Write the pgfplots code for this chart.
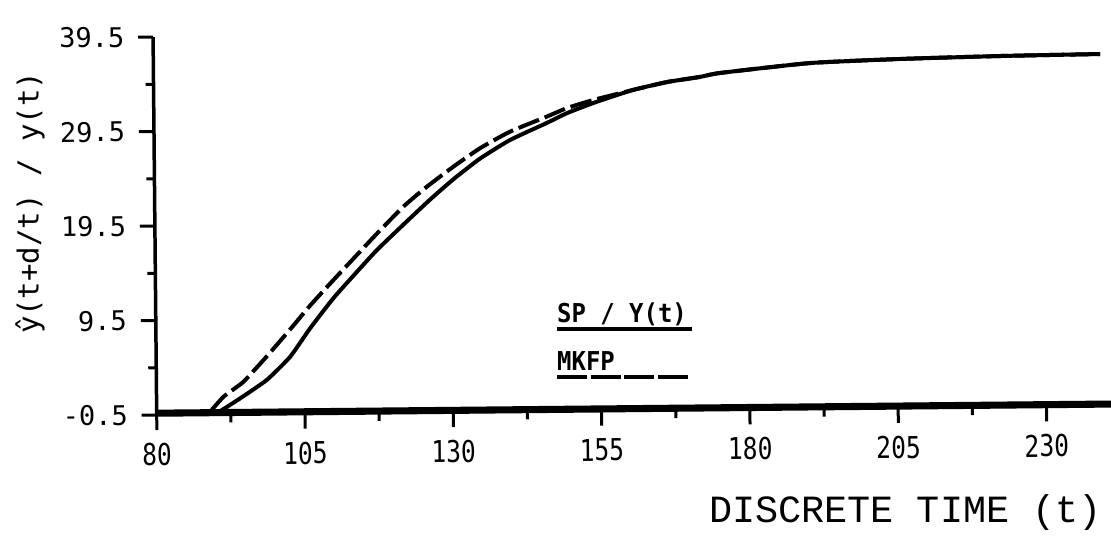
\documentclass[border=0pt]{standalone}
\usepackage{fontspec}
\setmainfont{DejaVu Sans Mono}
\newfontfamily\plotterfont{DejaVu Sans Mono}
\newfontfamily\plotternarrow[FakeStretch=0.82]{DejaVu Sans Mono}
\newfontfamily\legendfont[FakeStretch=0.92]{DejaVu Sans Mono}
\newfontfamily\typewriter{Liberation Mono}
\usepackage{pgfplots}
\pgfplotsset{compat=1.18}

% Predictor output (MKFP), dashed
\pgfplotstableread{
t y
80    -0.3
88.0  -0.3
89.0  -0.2
91.3   1.37
94.7   2.94
98.6   5.56
102.6  8.40
106.0 10.90
110.0 13.60
114.0 16.23
117.0 18.20
121.9 21.29
125.9 23.38
130.4 25.47
134.9 27.39
140.0 29.12
146.2 30.67
149.7 31.57
154.1 32.39
160.8 33.41
166.6 34.22
172.1 34.72
175.5 35.12
190.7 36.08
205.9 36.42
222.7 36.63
239.6 36.74
}\mkfp

% Process output Y(t), solid
\pgfplotstableread{
t y
80    -0.3
89.5  -0.3
90.7  -0.15
94.1   1.18
98.6   3.09
102.6  5.53
106.0  8.52
110.0 11.70
114.0 14.46
117.4 16.74
121.9 19.40
126.4 22.00
130.4 24.15
134.9 26.30
140.0 28.24
146.2 30.00
149.7 31.04
154.7 32.20
160.8 33.41
166.6 34.22
172.1 34.72
175.5 35.12
190.7 36.08
205.9 36.42
222.7 36.63
239.6 36.74
}\youtput

% Set point trace along the bottom
\pgfplotstableread{
t y
80   -0.2
160  -0.2
241  -0.2
}\setpoint

\begin{document}
\begin{tikzpicture}[x=1pt,y=1pt]
\useasboundingbox (0,0) rectangle (1111,539);
\begin{scope}[transform canvas={rotate around={0.55:(156.7,124)}}]
\begin{axis}[
  at={(156.7pt,124pt)}, anchor=south west,
  scale only axis, width=954.5pt, height=378pt,
  xmin=80, xmax=240.9, ymin=-0.5, ymax=39.5,
  clip=false,
  axis x line*=bottom, axis y line*=left,
  axis line style={line width=3.5pt, -},
  x axis line style={-}, y axis line style={-},
  tick align=outside,
  major tick length=15pt, minor tick length=8pt,
  tick style={line width=3pt, black},
  xtick={80,105,130,155,180,205,230},
  xticklabels={80,105,130,155,180,205,230},
  minor x tick num=1,
  ytick={-0.5,9.5,19.5,29.5,39.5},
  yticklabels={-0.5,9.5,19.5,29.5,39.5},
  minor y tick num=1,
  xticklabel style={font=\plotternarrow\fontsize{30}{32}\selectfont, anchor=north, inner sep=0pt, yshift=-13pt},
  yticklabel style={font=\plotterfont\fontsize{27}{30}\selectfont, anchor=east, inner sep=0pt, xshift=-13.7pt},
]
\addplot[black, line width=5pt] table[x=t,y=y] {\setpoint};
\addplot[black, line width=4pt, smooth, tension=0.3, line join=round] table[x=t,y=y] {\youtput};
\addplot[black, line width=4pt, smooth, tension=0.3, dash pattern=on 22pt off 6pt] table[x=t,y=y] {\mkfp};
\end{axis}
\end{scope}

% axis titles
\node[rotate=90, anchor=center, inner sep=0pt, font=\plotterfont\fontsize{29}{32}\selectfont] at (30,336) {ŷ(t+d/t) / y(t)};
\node[anchor=base east, inner sep=0pt, font=\typewriter\fontsize{38.5}{40}\selectfont] at (1102,17) {DISCRETE TIME (t)};

% legend
\node[anchor=base west, inner sep=0pt, font=\legendfont\bfseries\fontsize{26}{28}\selectfont] at (557,217) {SP / Y(t)};
\draw[line width=4pt] (557,210) -- (692,210);
\node[anchor=base west, inner sep=0pt, font=\legendfont\bfseries\fontsize{26}{28}\selectfont] at (557,169) {MKFP};
\draw[line width=3.5pt, dash pattern=on 30pt off 3.5pt] (557,162) -- (690,162);
\end{tikzpicture}
\end{document}
